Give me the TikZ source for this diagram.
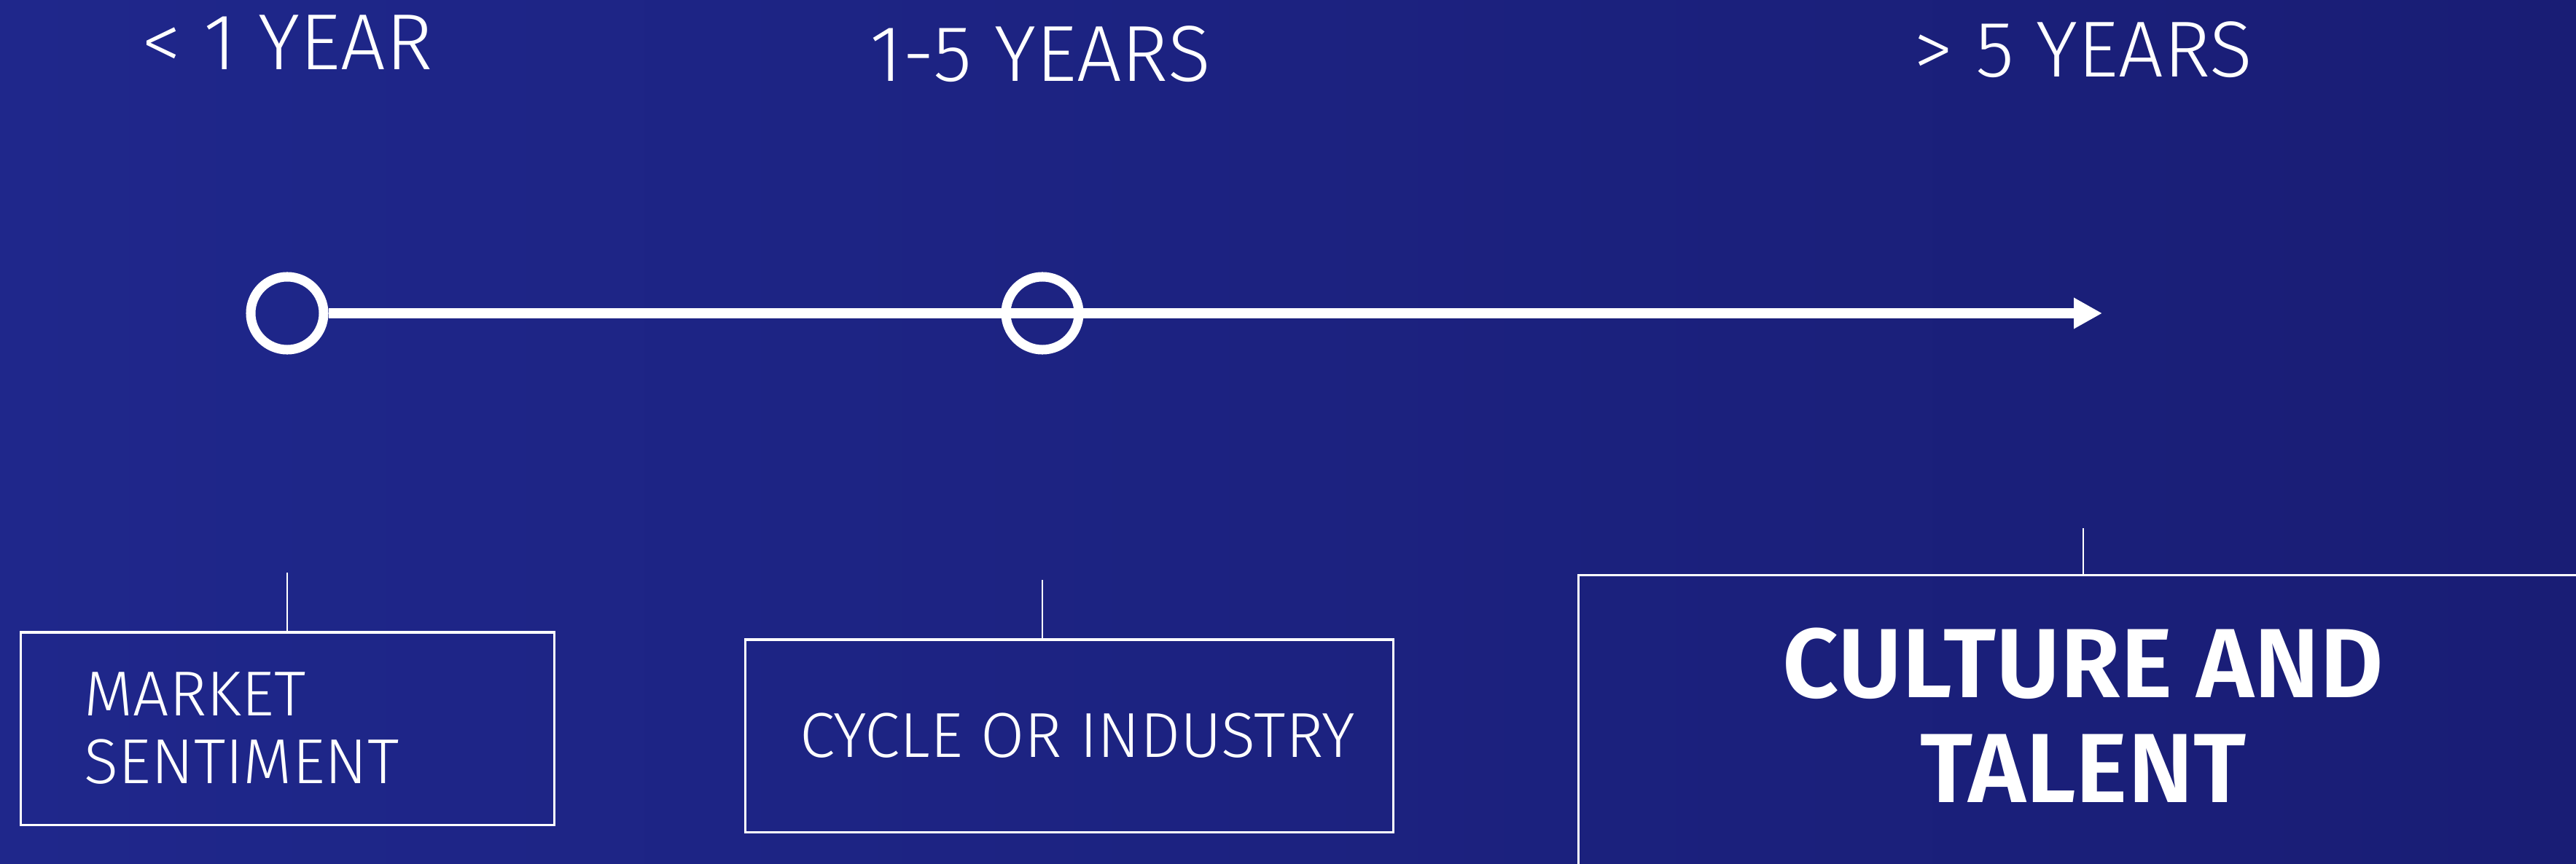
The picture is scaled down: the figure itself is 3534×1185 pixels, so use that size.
\documentclass[tikz,border=0pt]{standalone}
\usepackage{fontspec}
\setmainfont{Fira Sans}
\newfontfamily\thinfont{Fira Sans Light}
\newfontfamily\semifont{Fira Sans SemiBold}
\usetikzlibrary{arrows.meta}
\definecolor{bgleft}{RGB}{31,39,139}
\definecolor{bgright}{RGB}{25,29,117}
\tikzset{
  tline/.style={white,line width=3.7pt},
  tdot/.style={circle,draw=white,line width=3.7pt,inner sep=0pt,minimum size=1cm},
  thead/.style={white,anchor=base,font=\thinfont\fontsize{31}{36}\selectfont},
  tbox/.style={draw=white,line width=0.9pt,text=white,minimum height=2.64cm,
    align=left,inner ysep=0pt,font=\thinfont\fontsize{24.8}{26.5}\selectfont},
  ttick/.style={white,line width=0.6pt},
}
\begin{document}
\begin{tikzpicture}[x=0.01cm,y=-0.01cm]
  \shade[left color=bgleft,right color=bgright] (0,0) rectangle (3534,1185);
  \useasboundingbox (0,0) rectangle (3534,1185);
  \clip (0,0) rectangle (3534,1185);
  \node[thead] (h1) at (394,96) {< 1 YEAR};
  \node[thead] (h2) at (1427,112) {1-5 YEARS};
  \node[thead] (h3) at (2858,106) {> 5 YEARS};
  \node[tdot] (d1) at (394,430) {};
  \node[tdot] (d2) at (1430,430) {};
  \coordinate (tip) at (2884,430);
  \draw[tline,-{Triangle[length=0.39cm,width=0.4cm]}] (d1) -- (tip);
  \node[tbox,text width=5.57cm,inner xsep=0.87cm] (b1) at (394.5,1000) {MARKET\\SENTIMENT};
  \node[tbox,minimum width=8.88cm,inner xsep=0.5cm] (b2) at (1467,1010) {\hspace*{0.22cm}CYCLE OR INDUSTRY};
  \node[tbox,minimum width=13.84cm,minimum height=4.2cm,align=center,text depth=0.36cm,
        font=\semifont\fontsize{38.4}{41}\selectfont] (b3) at (2858,1000) {CULTURE AND\\TALENT};
  \coordinate (k1) at (394,786);
  \coordinate (k2) at (1430,796);
  \coordinate (k3) at (2858,725);
  \foreach \k/\b in {k1/b1,k2/b2,k3/b3}
    \draw[ttick] (\k) -- (\k |- \b.north);
\end{tikzpicture}
\end{document}
